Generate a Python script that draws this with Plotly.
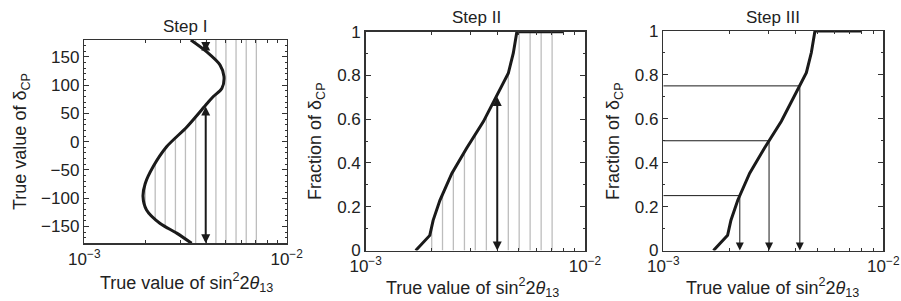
import numpy as np
import plotly.graph_objects as go

# ---------------- data ----------------
# Step I : boundary curve (true delta_CP vs true sin^2 2theta13)
delta_cp = [-180, -162, -145, -121, -97, -74, -44, -9, 26, 67, 80, 94, 115, 136, 159, 180]
step1_x = [3.39e-3, 2.86e-3, 2.37e-3, 2.03e-3, 1.95e-3, 2.00e-3, 2.19e-3, 2.55e-3,
           3.21e-3, 4.03e-3, 4.34e-3, 4.78e-3, 4.90e-3, 4.68e-3, 4.03e-3, 3.36e-3]

# Step II / III : fraction of delta_CP curve
frac_x = [1.69e-3, 1.96e-3, 2.03e-3, 2.18e-3, 2.47e-3, 2.88e-3, 3.44e-3, 4.03e-3,
          4.47e-3, 4.71e-3, 4.89e-3, 7.96e-3]
frac_y = [0.0, 0.069, 0.138, 0.229, 0.352, 0.466, 0.589, 0.719, 0.810, 0.902, 1.0, 1.0]

# gray sampling lines and the highlighted (black arrow) value
grid_x = [2.00e-3, 2.24e-3, 2.51e-3, 2.82e-3, 3.16e-3, 3.55e-3,
          4.47e-3, 5.01e-3, 5.62e-3, 6.31e-3, 7.08e-3]
arrow_x = 3.98e-3

# Step III fraction levels
levels = [0.25, 0.5, 0.75]

# x tick labels
xtick_vals = [1e-3, 1e-2]
xtick_text = ["10<sup>−3</sup>", "10<sup>−2</sup>"]
minor_vals = [2e-3, 3e-3, 4e-3, 5e-3, 6e-3, 7e-3, 8e-3, 9e-3]

titles = ["Step I", "Step II", "Step III"]

# ---------------- helpers ----------------
FONT = "Liberation Sans, Arial, Helvetica, sans-serif"
FS_TICK = 17
FS_TITLE = 17
FS_LAB = 18
TXT = "#222222"
CURVE = "#1a1a1a"
GRAY = "#bdbdbd"

dd = np.linspace(-180, 180, 3601)
lcurve = np.interp(dd, delta_cp, np.log10(step1_x))


def runs_below(X):
    """delta ranges in which the step I curve lies left of X"""
    m = lcurve < np.log10(X)
    segs = []
    i = 0
    n = len(m)
    while i < n:
        if m[i]:
            j = i
            while j + 1 < n and m[j + 1]:
                j += 1
            segs.append((dd[i], dd[j]))
            i = j + 1
        else:
            i += 1
    return segs


fy = np.array(frac_y[:-1])
flx = np.log10(frac_x[:-1])


def frac_at(X):
    return float(np.interp(np.log10(X), np.log10(frac_x), frac_y))


def x_at_frac(L):
    return 10 ** float(np.interp(L, fy, flx))


fig = go.Figure()

# ---- Step I ----
gx, gy = [], []
for X in grid_x:
    for a, b in runs_below(X):
        gx += [X, X, None]
        gy += [a, b, None]
fig.add_trace(go.Scatter(x=gx, y=gy, mode="lines", line=dict(color=GRAY, width=1.3),
                         xaxis="x", yaxis="y", hoverinfo="skip"))
fig.add_trace(go.Scatter(x=step1_x, y=delta_cp, mode="lines",
                         line=dict(color=CURVE, width=3, shape="spline", smoothing=0.8),
                         xaxis="x", yaxis="y"))

# ---- Step II ----
gx, gy = [], []
for X in grid_x:
    gx += [X, X, None]
    gy += [0, frac_at(X), None]
fig.add_trace(go.Scatter(x=gx, y=gy, mode="lines", line=dict(color=GRAY, width=1.3),
                         xaxis="x2", yaxis="y2", hoverinfo="skip"))
fig.add_trace(go.Scatter(x=frac_x, y=frac_y, mode="lines",
                         line=dict(color=CURVE, width=3),
                         xaxis="x2", yaxis="y2", cliponaxis=False))

# ---- Step III ----
hx, hy = [], []
for L in levels:
    hx += [1e-3, x_at_frac(L), None]
    hy += [L, L, None]
fig.add_trace(go.Scatter(x=hx, y=hy, mode="lines", line=dict(color=CURVE, width=1),
                         xaxis="x3", yaxis="y3", hoverinfo="skip"))
fig.add_trace(go.Scatter(x=frac_x, y=frac_y, mode="lines",
                         line=dict(color=CURVE, width=3),
                         xaxis="x3", yaxis="y3", cliponaxis=False))

annotations = []
# Step I double arrows
for a, b in runs_below(arrow_x):
    annotations.append(dict(x=np.log10(arrow_x), y=a, ax=np.log10(arrow_x), ay=b,
                            xref="x", yref="y", axref="x", ayref="y", text="",
                            showarrow=True, arrowhead=2, startarrowhead=2,
                            arrowside="end+start", arrowsize=0.9, arrowwidth=2,
                            arrowcolor=CURVE, standoff=0, startstandoff=0))
# Step II double arrow
annotations.append(dict(x=np.log10(arrow_x), y=0, ax=np.log10(arrow_x), ay=frac_at(arrow_x),
                        xref="x2", yref="y2", axref="x2", ayref="y2", text="",
                        showarrow=True, arrowhead=2, startarrowhead=2,
                        arrowside="end+start", arrowsize=0.9, arrowwidth=2,
                        arrowcolor=CURVE, standoff=0, startstandoff=0))
# Step III down arrows
for L in levels:
    xl = x_at_frac(L)
    annotations.append(dict(x=np.log10(xl), y=0, ax=np.log10(xl), ay=L,
                            xref="x3", yref="y3", axref="x3", ayref="y3", text="",
                            showarrow=True, arrowhead=2, arrowsize=1.6, arrowwidth=1,
                            arrowcolor=CURVE, standoff=0))

W, H = 901, 301
dom = [
    dict(x=(84.3, 286.7), y=(40.0, 243.3)),
    dict(x=(365.7, 585.0), y=(31.7, 250.5)),
    dict(x=(663.3, 883.3), y=(31.0, 250.5)),
]


def px(v):
    return v / W


def py(v):
    return 1 - v / H


common = dict(showline=True, linecolor="#333333", linewidth=1.5, mirror="allticks",
              ticks="inside", ticklen=5, tickcolor="#333333", tickwidth=1,
              showgrid=False, zeroline=False, automargin=False,
              tickfont=dict(family=FONT, size=FS_TICK, color=TXT))

layout = dict(width=W, height=H, margin=dict(l=0, r=0, t=0, b=0, autoexpand=False),
              paper_bgcolor="white", plot_bgcolor="white", showlegend=False,
              annotations=annotations)

for i, d in enumerate(dom):
    s = "" if i == 0 else str(i + 1)
    layout["xaxis" + s] = dict(common, type="log", range=[-3, -2],
                               domain=[px(d["x"][0]), px(d["x"][1])],
                               anchor="y" + s, tickvals=xtick_vals, ticktext=xtick_text,
                               minor=dict(ticks="inside", ticklen=3, tickvals=minor_vals,
                                          tickcolor="#333333", showgrid=False))
    ydom = [py(d["y"][1]), py(d["y"][0])]
    if i == 0:
        layout["yaxis" + s] = dict(common, range=[-180, 180], domain=ydom, anchor="x" + s,
                                   tickvals=[-150, -100, -50, 0, 50, 100, 150],
                                   minor=dict(ticks="inside", ticklen=2, dtick=10,
                                              tickcolor="#333333", showgrid=False))
    else:
        layout["yaxis" + s] = dict(common, range=[0, 1], domain=ydom, anchor="x" + s,
                                   tickvals=[0, 0.2, 0.4, 0.6, 0.8, 1],
                                   ticktext=["0", "0.2", "0.4", "0.6", "0.8", "1"],
                                   minor=dict(ticks="inside", ticklen=2, dtick=0.1,
                                              tickcolor="#333333", showgrid=False))

fig.update_layout(**layout)

# titles and axis labels as paper annotations
title_pos = [(185, 26), (476, 18), (773, 18)]
xlab_pos = [(186, 282), (473, 287), (772, 287)]
ylab_pos = [(21, 142), (316, 141), (614, 141)]
ylab_text = ["True value of δ<sub>CP</sub>", "Fraction of δ<sub>CP</sub>", "Fraction of δ<sub>CP</sub>"]
xlab_text = "True value of sin<sup>2</sup>2<i>θ</i><sub>13</sub>"
for i in range(3):
    fig.add_annotation(x=px(title_pos[i][0]), y=py(title_pos[i][1]), xref="paper", yref="paper",
                       text=titles[i], showarrow=False, xanchor="center", yanchor="middle",
                       font=dict(family=FONT, size=FS_TITLE, color=TXT))
    fig.add_annotation(x=px(xlab_pos[i][0]), y=py(xlab_pos[i][1]), xref="paper", yref="paper",
                       text=xlab_text, showarrow=False, xanchor="center", yanchor="middle",
                       font=dict(family=FONT, size=FS_LAB, color=TXT))
    fig.add_annotation(x=px(ylab_pos[i][0]), y=py(ylab_pos[i][1]), xref="paper", yref="paper",
                       text=ylab_text[i], showarrow=False, xanchor="center", yanchor="middle",
                       textangle=-90, font=dict(family=FONT, size=FS_LAB, color=TXT))

fig.write_html("out.html", config={"displayModeBar": False, "staticPlot": True},
               post_script="document.body.style.margin='0';document.body.style.overflow='hidden';")
